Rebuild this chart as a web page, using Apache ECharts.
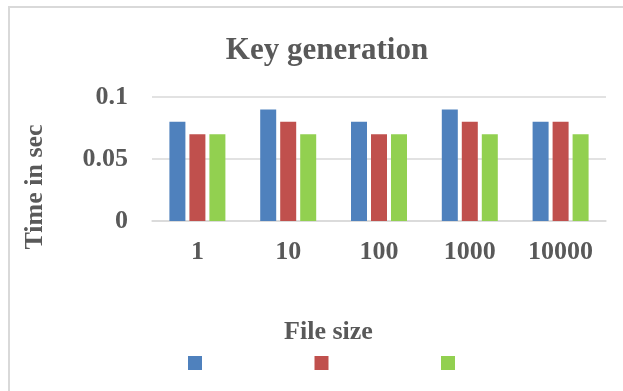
<!DOCTYPE html>
<html>
<head>
<meta charset="utf-8">
<script src="https://cdn.jsdelivr.net/npm/echarts@6/dist/echarts.min.js"></script>
<style>html,body{margin:0;padding:0;background:#fff;}#c{width:623px;height:391px;}</style>
</head>
<body>
<div id="c"></div>
<script>
const categories = ['1', '10', '100', '1000', '10000'];
const seriesA = [0.08, 0.09, 0.08, 0.09, 0.08];
const seriesB = [0.07, 0.08, 0.07, 0.08, 0.08];
const seriesC = [0.07, 0.07, 0.07, 0.07, 0.07];
const seriesNames = ['S1', 'S2', 'S3'];
const colors = ['#4f81bd', '#c0504d', '#92d050'];

const FONT = "'Liberation Serif', 'Times New Roman', serif";
const TXT = '#595959';
const chart = echarts.init(document.getElementById('c'), null, {renderer: 'canvas'});
chart.setOption({
  animation: false,
  color: colors,
  title: {
    text: 'Key generation',
    left: 322, top: 30, textAlign: 'center',
    textStyle: {fontFamily: FONT, fontWeight: 'bold', fontSize: 31, color: TXT}
  },
  grid: {left: 152, right: 17, top: 97, bottom: 170, containLabel: false},
  legend: {
    left: 188, top: 356, padding: 0,
    itemWidth: 14, itemHeight: 14, itemGap: 112.5,
    icon: 'rect',
    formatter: function () { return ''; },
    data: seriesNames
  },
  xAxis: {
    type: 'category', data: categories,
    axisLine: {lineStyle: {color: '#d9d9d9', width: 1.5}},
    axisTick: {show: false},
    axisLabel: {margin: 18, fontFamily: FONT, fontWeight: 'bold', fontSize: 26, color: TXT}
  },
  yAxis: {
    type: 'value', min: 0, max: 0.1, interval: 0.05,
    axisLine: {show: false}, axisTick: {show: false},
    splitLine: {lineStyle: {color: '#d9d9d9', width: 1.5}},
    axisLabel: {margin: 24, fontFamily: FONT, fontWeight: 'bold', fontSize: 26, color: TXT,
      formatter: function (v) { return v === 0 ? '0' : String(+v.toFixed(2)); }}
  },
  graphic: [
    {type: 'rect', shape: {x: 9, y: 7, width: 800, height: 600}, silent: true,
     style: {fill: 'none', stroke: '#d9d9d9', lineWidth: 2}},
    {type: 'text', x: -4, y: 3.5, silent: true,
     style: {text: 'methods.', fontFamily: FONT, fontSize: 24, fill: '#000', textVerticalAlign: 'bottom'}},
    {type: 'text', x: 35, y: 187, rotation: Math.PI / 2, silent: true,
     style: {text: 'Time in sec', fontFamily: FONT, fontWeight: 'bold', fontSize: 26, fill: TXT,
             textAlign: 'center', textVerticalAlign: 'middle'}},
    {type: 'text', x: 328.5, y: 332, silent: true,
     style: {text: 'File size', fontFamily: FONT, fontWeight: 'bold', fontSize: 26, fill: TXT,
             textAlign: 'center', textVerticalAlign: 'middle'}}
  ],
  series: [
    {name: seriesNames[0], type: 'bar', data: seriesA, barWidth: 16, barGap: '25%'},
    {name: seriesNames[1], type: 'bar', data: seriesB, barWidth: 16, barGap: '25%'},
    {name: seriesNames[2], type: 'bar', data: seriesC, barWidth: 16, barGap: '25%'}
  ]
});
</script>
</body>
</html>
